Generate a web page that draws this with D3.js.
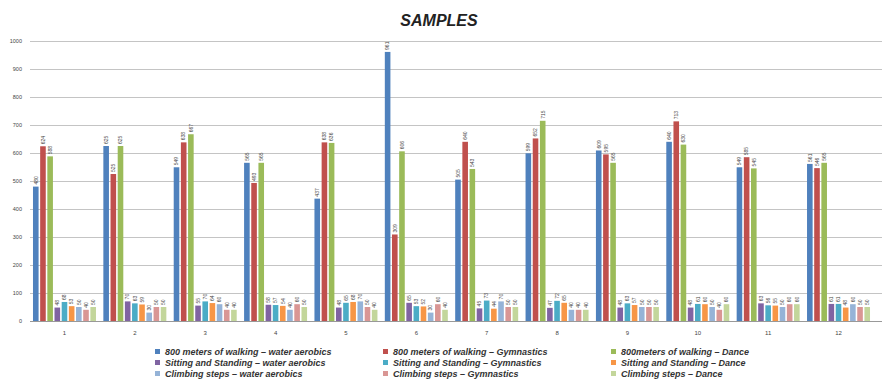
<!DOCTYPE html>
<html>
<head>
<meta charset="utf-8">
<script src="https://cdn.jsdelivr.net/npm/d3@7"></script>
<style>
  body { margin: 0; background: #fff; }
  text { font-family: "Liberation Sans", Arial, sans-serif; }
</style>
</head>
<body>
<script>
// chart data
var groups = ["1", "2", "3", "4", "5", "6", "7", "8", "9", "10", "11", "12"];
var seriesNames = [
    "800 meters of walking \u2013 water aerobics",
    "800 meters of walking \u2013 Gymnastics",
    "800meters of walking \u2013 Dance",
    "Sitting and Standing \u2013 water aerobics",
    "Sitting and Standing \u2013 Gymnastics",
    "Sitting and Standing \u2013 Dance",
    "Climbing steps \u2013 water aerobics",
    "Climbing steps \u2013 Gymnastics",
    "Climbing steps \u2013 Dance"
];
var walkWater   = [480, 625, 549, 565, 437, 961, 505, 599, 609, 640, 549, 561];
var walkGym     = [624, 525, 638, 493, 638, 309, 640, 652, 595, 713, 585, 546];
var walkDance   = [588, 625, 667, 565, 636, 606, 543, 715, 565, 630, 545, 565];
var sitWater    = [48, 70, 55, 58, 48, 65, 45, 47, 48, 48, 63, 61];
var sitGym      = [68, 63, 70, 57, 65, 53, 73, 72, 63, 61, 56, 61];
var sitDance    = [53, 59, 64, 54, 68, 52, 44, 65, 57, 60, 55, 48];
var climbWater  = [50, 30, 60, 40, 70, 30, 70, 40, 50, 50, 50, 60];
var climbGym    = [40, 50, 40, 60, 50, 60, 50, 40, 50, 40, 60, 50];
var climbDance  = [50, 50, 40, 50, 40, 40, 50, 40, 50, 60, 60, 50];
var yTicks = [0, 100, 200, 300, 400, 500, 600, 700, 800, 900, 1000];

var allSeries = [walkWater, walkGym, walkDance, sitWater, sitGym, sitDance, climbWater, climbGym, climbDance];
var colors = ["#4F81BD", "#C0504D", "#9BBB59", "#8064A2", "#4BACC6", "#F79646", "#95B3D7", "#D99694", "#C3D69B"];

var width = 882, height = 388;
var svg = d3.select("body").append("svg")
    .attr("width", width)
    .attr("height", height);

// title
svg.append("text")
    .attr("x", 439).attr("y", 26)
    .attr("text-anchor", "middle")
    .style("font-size", "16px")
    .style("font-weight", "bold")
    .style("font-style", "italic")
    .attr("fill", "#222")
    .text("SAMPLES");

var x0 = d3.scaleBand().domain(groups).range([30, 873]).paddingInner(0.06).paddingOuter(0.02);
var x1 = d3.scaleBand().domain(d3.range(9)).range([0, x0.bandwidth()]).padding(0.22);
var y = d3.scaleLinear().domain([0, 1000]).range([321, 41]);

// gridlines
svg.append("g").selectAll("line")
    .data(yTicks)
    .enter().append("line")
    .attr("x1", 30).attr("x2", 882)
    .attr("y1", function (d) { return y(d) + 0.5; })
    .attr("y2", function (d) { return y(d) + 0.5; })
    .attr("stroke", function (d) { return d === 0 ? "#999" : "#c4c4c4"; })
    .attr("stroke-width", 1);

// y tick labels
svg.append("g").selectAll("text")
    .data(yTicks)
    .enter().append("text")
    .attr("x", 22)
    .attr("y", function (d) { return y(d) + 2; })
    .attr("text-anchor", "end")
    .style("font-size", "5.5px")
    .attr("fill", "#444")
    .text(function (d) { return d; });

// x labels
svg.append("g").selectAll("text")
    .data(groups)
    .enter().append("text")
    .attr("x", function (d) { return x0(d) + x0.bandwidth() / 2; })
    .attr("y", 335)
    .attr("text-anchor", "middle")
    .style("font-size", "6px")
    .attr("fill", "#444")
    .text(function (d) { return d; });

// bars
var groupSel = svg.append("g").selectAll("g")
    .data(groups)
    .enter().append("g")
    .attr("transform", function (d) { return "translate(" + x0(d) + ",0)"; });

groupSel.selectAll("rect")
    .data(function (d, gi) { return allSeries.map(function (s, si) { return { si: si, v: s[gi] }; }); })
    .enter().append("rect")
    .attr("x", function (d) { return x1(d.si); })
    .attr("width", x1.bandwidth())
    .attr("y", function (d) { return y(d.v); })
    .attr("height", function (d) { return y(0) - y(d.v); })
    .attr("fill", function (d) { return colors[d.si]; });

// rotated value labels
groupSel.selectAll("text")
    .data(function (d, gi) { return allSeries.map(function (s, si) { return { si: si, v: s[gi] }; }); })
    .enter().append("text")
    .attr("transform", function (d) {
        return "translate(" + (x1(d.si) + x1.bandwidth() / 2 + 1.8) + "," + (y(d.v) - 2) + ") rotate(-90)";
    })
    .attr("text-anchor", "start")
    .style("font-size", "5px")
    .attr("fill", "#444")
    .text(function (d) { return d.v; });

// legend, three columns
var legendX = [155, 383, 611];
var legendY = [355, 366, 377];
var legend = svg.append("g").selectAll("g")
    .data(seriesNames)
    .enter().append("g")
    .attr("transform", function (d, i) { return "translate(" + legendX[i % 3] + "," + legendY[Math.floor(i / 3)] + ")"; });

legend.append("rect")
    .attr("x", 0).attr("y", -6)
    .attr("width", 5).attr("height", 5)
    .attr("fill", function (d, i) { return colors[i]; });

legend.append("text")
    .attr("x", 10).attr("y", 0)
    .style("font-size", "9px")
    .style("font-weight", "bold")
    .style("font-style", "italic")
    .attr("fill", "#333")
    .text(function (d) { return d; });
</script>
</body>
</html>
